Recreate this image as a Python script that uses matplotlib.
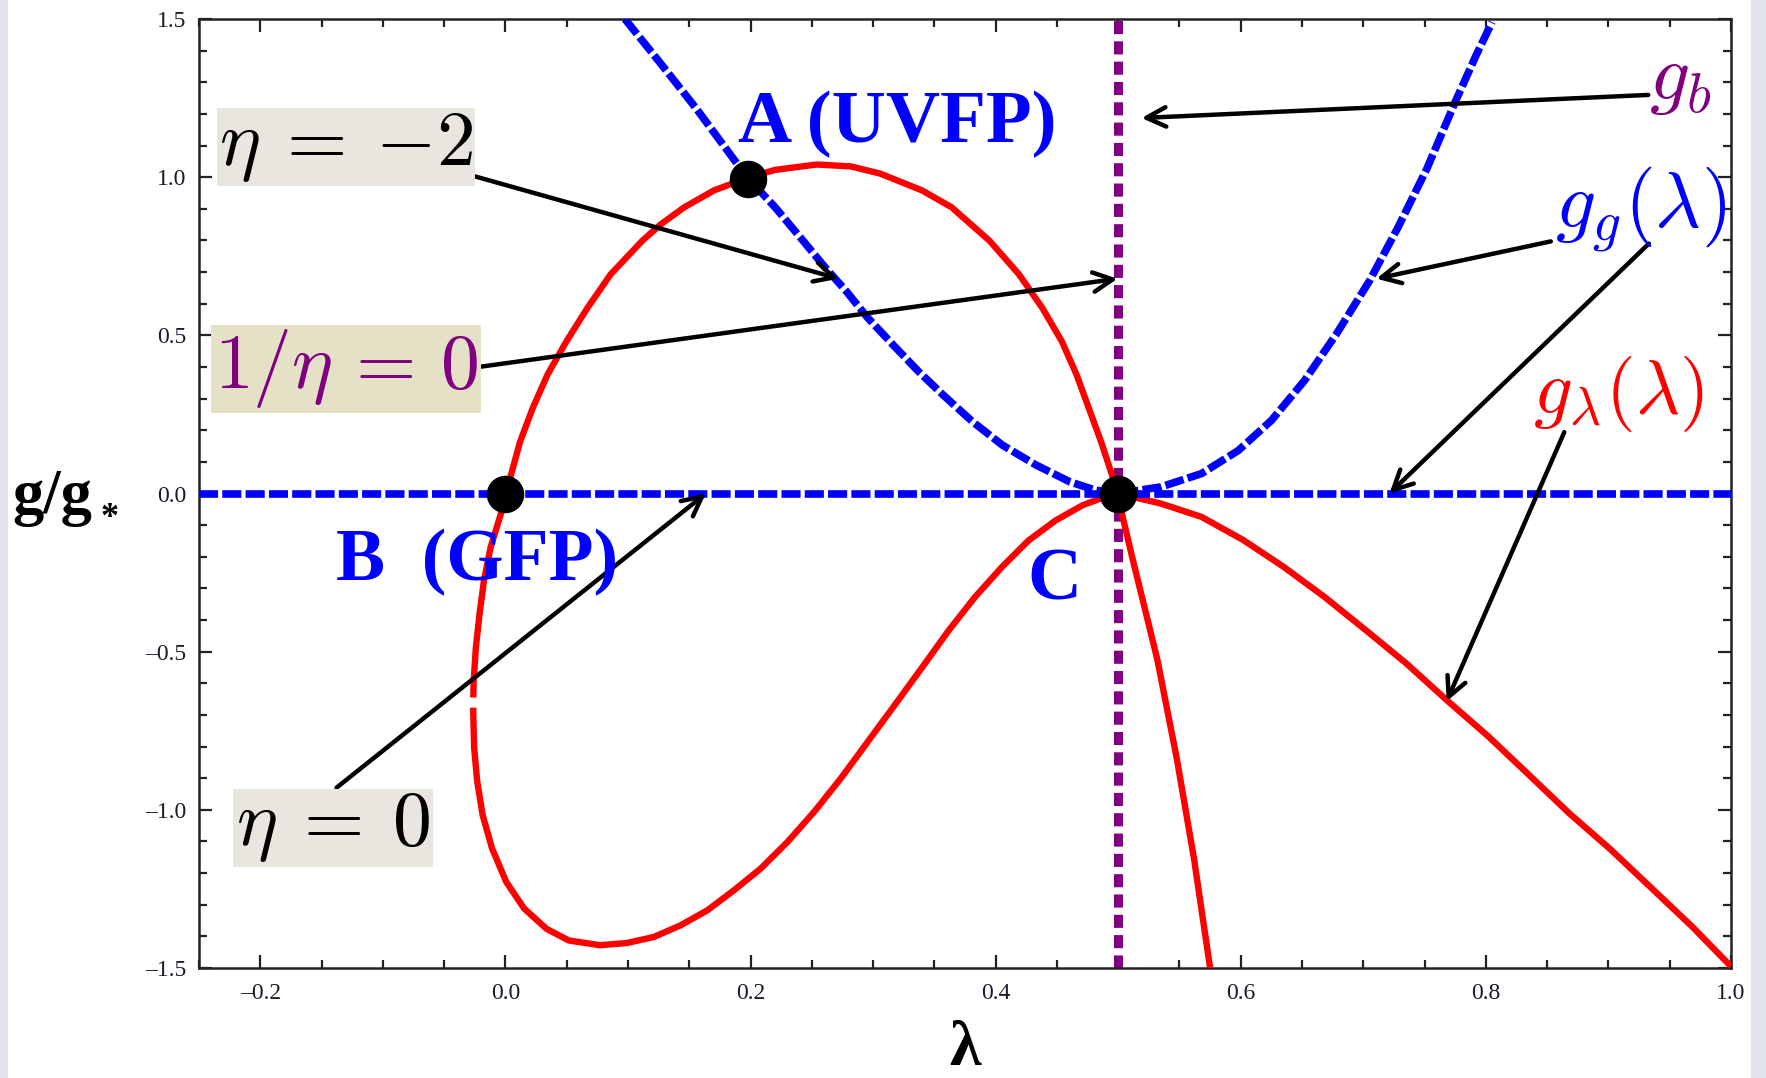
import matplotlib
matplotlib.use("Agg")
import matplotlib.pyplot as plt
from matplotlib.patches import Rectangle
from matplotlib.ticker import MultipleLocator, FuncFormatter

plt.rcParams['mathtext.fontset'] = 'cm'
plt.rcParams['font.family'] = ['Liberation Serif', 'DejaVu Serif']

# ---- g_lambda(lambda): steep branch -> C -> upper loop -> B -> left side
lam_red_a = [0.575, 0.568, 0.562, 0.555, 0.548, 0.540, 0.532, 0.522, 0.512, 0.503, 0.500,
             0.495, 0.486, 0.476, 0.466, 0.454, 0.438, 0.419, 0.395, 0.364, 0.340, 0.306,
             0.282, 0.254, 0.220, 0.1976, 0.1701, 0.1460, 0.1271, 0.1117, 0.0859, 0.0670,
             0.0498, 0.0344, 0.0223, 0.0120, 0.0045, 0.0,
             -0.0036, -0.0120, -0.0175, -0.0211, -0.0241, -0.0259, -0.0262]
g_red_a = [-1.500, -1.316, -1.158, -1.000, -0.842, -0.684, -0.526, -0.368, -0.211, -0.063, 0.0,
           0.058, 0.164, 0.270, 0.376, 0.481, 0.587, 0.693, 0.799, 0.905, 0.958, 1.011,
           1.034, 1.040, 1.023, 0.998, 0.958, 0.905, 0.852, 0.799, 0.693, 0.587,
           0.481, 0.376, 0.270, 0.164, 0.058, 0.0,
           -0.063, -0.169, -0.275, -0.381, -0.487, -0.593, -0.645]

# ---- g_lambda(lambda): lower loop -> C -> right branch
lam_red_b = [-0.0262, -0.0262, -0.0255, -0.0230, -0.0186, -0.0109, 0.0007, 0.0153, 0.0335,
             0.0517, 0.0773, 0.0991, 0.121, 0.143, 0.165, 0.1866, 0.2085, 0.2303, 0.2522,
             0.274, 0.296, 0.318, 0.340, 0.3615, 0.383, 0.405, 0.427, 0.449, 0.471, 0.489,
             0.500, 0.535, 0.568, 0.602, 0.635, 0.668, 0.702, 0.735, 0.768,
             0.802, 0.835, 0.868, 0.902, 0.935, 0.968, 1.000]
g_red_b = [-0.677, -0.698, -0.804, -0.910, -1.016, -1.122, -1.228, -1.312, -1.376,
           -1.413, -1.428, -1.421, -1.402, -1.365, -1.317, -1.254, -1.185, -1.101, -1.005,
           -0.899, -0.783, -0.667, -0.550, -0.434, -0.328, -0.233, -0.148, -0.085, -0.037, -0.011,
           0.0, -0.032, -0.074, -0.147, -0.232, -0.326, -0.432, -0.537, -0.653,
           -0.768, -0.889, -1.011, -1.126, -1.247, -1.368, -1.495]

# ---- g_g(lambda)
lam_blue = [0.0975, 0.1257, 0.1557, 0.1857, 0.1976, 0.220, 0.2405, 0.261, 0.278, 0.2955,
            0.316, 0.337, 0.357, 0.381, 0.4055, 0.433, 0.4605, 0.481, 0.500,
            0.535, 0.568, 0.598, 0.625, 0.652, 0.678, 0.705, 0.728, 0.752, 0.775, 0.792, 0.805]
g_blue = [1.500, 1.364, 1.217, 1.060, 0.998, 0.905, 0.810, 0.714, 0.640, 0.556,
          0.471, 0.386, 0.312, 0.2275, 0.153, 0.090, 0.037, 0.011, 0.0,
          0.021, 0.063, 0.136, 0.231, 0.357, 0.504, 0.672, 0.839, 1.028, 1.238, 1.385, 1.490]

# ---- trivial solution g = 0 and the vertical g_b line at lambda = 1/2
lam_zero = [-0.25, 1.0]
g_zero = [0.0, 0.0]
lam_b = [0.5, 0.5]
g_b = [-1.5, 1.5]

# ---- fixed points A (UVFP), B (GFP), C
fp_lam = [0.198, 0.0, 0.5]
fp_g = [0.995, 0.0, 0.0]

xticks = [-0.2, 0.0, 0.2, 0.4, 0.6, 0.8, 1.0]
yticks = [-1.5, -1.0, -0.5, 0.0, 0.5, 1.0, 1.5]

W, H = 1766, 1078
fig = plt.figure(figsize=(W / 100, H / 100), dpi=100)
fig.patch.set_facecolor('white')
for x0, w in [(0, 8), (1751, 15)]:
    fig.patches.append(Rectangle((x0 / W, 0), w / W, 1, transform=fig.transFigure,
                                 facecolor='#e1e5eb', edgecolor='none', zorder=0))


def fx(px):
    return px / W


def fy(py):
    return 1 - py / H


ax = fig.add_axes([fx(199), fy(968), (1731 - 199) / W, (968 - 19) / H])
ax.set_xlim(-0.25, 1.0)
ax.set_ylim(-1.5, 1.5)

PURPLE = '#800080'
BLUE = '#0000ff'
RED = '#ff0000'

ax.plot(lam_b, g_b, color=PURPLE, lw=6.5, dashes=(1.45, 0.8), solid_capstyle='butt',
        dash_capstyle='butt', zorder=2)
ax.plot(lam_red_a, g_red_a, color=RED, lw=4.6, zorder=3, solid_capstyle='butt',
        solid_joinstyle='round')
ax.plot(lam_red_b, g_red_b, color=RED, lw=4.6, zorder=3, solid_capstyle='butt',
        solid_joinstyle='round')
ax.plot(lam_blue, g_blue, color=BLUE, lw=5.5, dashes=(2.5, 0.55), dash_capstyle='butt',
        dash_joinstyle='round', zorder=4)
ax.plot(lam_zero, g_zero, color=BLUE, lw=5.5, dashes=(2.5, 0.55), dash_capstyle='butt', zorder=4)
ax.plot(fp_lam, fp_g, 'o', color='black', ms=26, zorder=6, clip_on=False)

# axes frame and ticks
for s in ax.spines.values():
    s.set_linewidth(1.8)
    s.set_color('#222222')
ax.set_xticks(xticks)
ax.set_yticks(yticks)
ax.xaxis.set_minor_locator(MultipleLocator(0.05))
ax.yaxis.set_minor_locator(MultipleLocator(0.1))
ax.tick_params(which='both', direction='in', top=True, right=True, width=1.6, color='#222222')
ax.tick_params(which='major', length=9.5)
ax.tick_params(which='minor', length=5.5)
ax.tick_params(axis='x', which='major', pad=11, labelsize=17)
ax.tick_params(axis='y', which='major', pad=9, labelsize=17)
fmt = FuncFormatter(lambda v, p: ('%.1f' % v).replace('-', '\u2013'))
ax.xaxis.set_major_formatter(fmt)
ax.yaxis.set_major_formatter(fmt)
for lab in ax.get_xticklabels() + ax.get_yticklabels():
    lab.set_color('#1a1a2a')

# axis titles
fig.text(fx(12), fy(513), 'g/g', fontsize=45, fontweight='bold', ha='left', va='baseline',
         color='black')
fig.text(fx(101), fy(527), '*', fontsize=26, fontweight='bold', ha='left', va='baseline',
         color='black')
fig.text(fx(965), fy(1065), '\u03bb', fontsize=46, fontweight='bold', ha='center',
         va='baseline', color='black')

# fixed point labels
fig.text(fx(738), fy(142), 'A (UVFP)', fontsize=54, fontweight='bold', color=BLUE,
         ha='left', va='baseline')
fig.text(fx(336), fy(580), 'B  (GFP)', fontsize=53, fontweight='bold', color=BLUE,
         ha='left', va='baseline')
fig.text(fx(1027), fy(600), 'C', fontsize=54, fontweight='bold', color=BLUE,
         ha='left', va='baseline')

# curve labels
fig.text(fx(1649), fy(99), r'$g_b$', fontsize=57, color=PURPLE, ha='left', va='baseline')
fig.text(fx(1555), fy(227), r'$g_g(\lambda)$', fontsize=57, color=BLUE, ha='left', va='baseline')
fig.text(fx(1533), fy(413), r'$g_\lambda(\lambda)$', fontsize=55, color=RED, ha='left',
         va='baseline')

# eta labels on shaded boxes
fig.text(fx(346), fy(147), r'$\eta\:=\:-2$', fontsize=56, color='black', ha='center',
         va='center', bbox=dict(boxstyle='square,pad=0.03', fc='#e8e6df', ec='none'))
fig.text(fx(346), fy(369), r'$1/\eta\,=\,0$', fontsize=56, color=PURPLE, ha='center',
         va='center', bbox=dict(boxstyle='square,pad=0.03', fc='#e4e1c6', ec='none'))
fig.text(fx(333), fy(828), r'$\eta\:=\:0$', fontsize=56, color='black', ha='center',
         va='center', bbox=dict(boxstyle='square,pad=0.03', fc='#e8e6df', ec='none'))

# arrows: (start, tip) in data coordinates
arrows = [
    ((-0.0602, 1.041), (0.272, 0.679)),
    ((-0.0218, 0.400), (0.4995, 0.679)),
    ((-0.1378, -0.930), (0.1636, 0.0)),
    ((0.9325, 1.260), (0.519, 1.187)),
    ((0.853, 0.797), (0.7106, 0.679)),
    ((0.933, 0.790), (0.7213, 0.0)),
    ((0.864, 0.194), (0.768, -0.657)),
]
for start, tip in arrows:
    ax.annotate('', xy=tip, xytext=start, annotation_clip=False,
                arrowprops=dict(arrowstyle='->,head_length=14,head_width=7', lw=3.2,
                                color='black', shrinkA=0, shrinkB=0, mutation_scale=1),
                zorder=8)

fig.savefig('out.png', dpi=100, facecolor=fig.get_facecolor())
